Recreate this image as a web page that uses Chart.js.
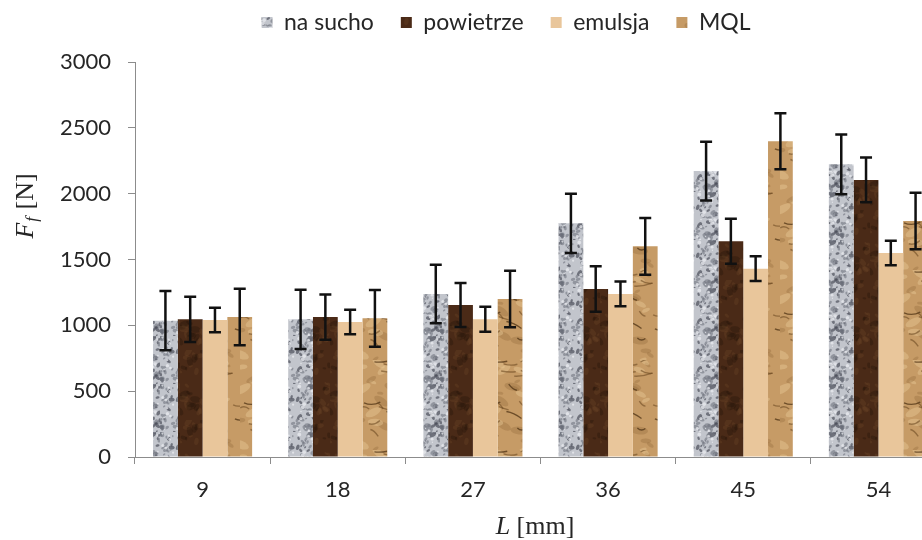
<!DOCTYPE html>
<html>
<head>
<meta charset="utf-8">
<script src="https://cdn.jsdelivr.net/npm/chart.js@4.4.0/dist/chart.umd.min.js"></script>
<style>
  html, body { margin: 0; padding: 0; background: #fff; overflow: hidden; }
  #wrap { width: 922px; height: 540px; overflow: hidden; }
</style>
</head>
<body>
<div id="wrap"><canvas id="chart" width="946" height="540"></canvas></div>
<script>
// dlugosc L [mm]
var lengths = ["9", "18", "27", "36", "45", "54"];

// sila Ff [N] - wartosci srednie
var naSucho   = [1035, 1046, 1238, 1775, 2172, 2223];
var powietrze = [1046, 1063, 1154, 1276, 1638, 2104];
var emulsja   = [1040, 1025, 1046, 1238, 1430, 1549];
var mql       = [1063, 1053, 1200, 1600, 2398, 1792];

// odchylenia (slupki bledow)
var errSucho     = [225, 225, 223, 225, 223, 227];
var errPowietrze = [172, 172, 167, 172, 171, 170];
var errEmulsja   = [93, 93, 95, 94, 94, 93];
var errMql       = [215, 215, 215, 216, 213, 215];

var yTicks = [0, 500, 1000, 1500, 2000, 2500, 3000];

var canvas = document.getElementById("chart");
var ctx = canvas.getContext("2d");

// deterministic hash for the textures
function h(n) {
  var s = Math.sin(n * 127.1 + 311.7) * 43758.5453;
  return s - Math.floor(s);
}

function tile(w, hgt, draw) {
  var c = document.createElement("canvas");
  c.width = w; c.height = hgt;
  draw(c.getContext("2d"), w, hgt);
  return ctx.createPattern(c, "repeat");
}

// granite-like grey
var granite = tile(40, 48, function(g, w, hh) {
  g.fillStyle = "#c2c5cc"; g.fillRect(0, 0, w, hh);
  for (var i = 0; i < 90; i++) {
    var x = h(i) * w, y = h(i + 50) * hh, r = 0.8 + h(i + 100) * 1.9;
    g.fillStyle = i % 3 ? "rgba(105,110,120,0.55)" : "rgba(75,79,90,0.7)";
    g.beginPath(); g.ellipse(x, y, r * 1.3, r * 0.8, h(i + 7) * 3, 0, Math.PI * 2); g.fill();
  }
  for (var k = 0; k < 30; k++) {
    var x2 = h(k + 200) * w, y2 = h(k + 250) * hh, r2 = 0.6 + h(k + 300) * 1.4;
    g.fillStyle = "rgba(236,238,242,0.7)";
    g.beginPath(); g.arc(x2, y2, r2, 0, Math.PI * 2); g.fill();
  }
});

// dark brown
var brown = tile(30, 70, function(g, w, hh) {
  g.fillStyle = "#4a2a17"; g.fillRect(0, 0, w, hh);
  for (var i = 0; i < 40; i++) {
    var x = h(i + 400) * w, y = h(i + 450) * hh, r = 1.5 + h(i + 500) * 4;
    g.fillStyle = i % 2 ? "rgba(115,75,42,0.28)" : "rgba(30,15,6,0.3)";
    g.beginPath(); g.ellipse(x, y, r, r * 0.6, h(i + 9) * 3, 0, Math.PI * 2); g.fill();
  }
});

// crumpled paper
var paper = tile(60, 90, function(g, w, hh) {
  g.fillStyle = "#c69b66"; g.fillRect(0, 0, w, hh);
  for (var i = 0; i < 26; i++) {
    var x = h(i + 600) * w, y = h(i + 650) * hh, r = 3 + h(i + 700) * 6;
    g.fillStyle = i % 2 ? "rgba(234,204,156,0.4)" : "rgba(140,100,52,0.3)";
    g.beginPath(); g.ellipse(x, y, r, r * 0.45, -0.7 + h(i + 3) * 1.4, 0, Math.PI * 2); g.fill();
  }
  g.lineWidth = 1.4;
  for (var k = 0; k < 18; k++) {
    var sx = h(k + 800) * w, sy = h(k + 850) * hh;
    var dx = 6 + h(k + 950) * 12, dy = -4 + h(k + 900) * 14;
    g.strokeStyle = k % 3 ? "rgba(110,75,35,0.6)" : "rgba(80,52,22,0.75)";
    g.beginPath(); g.moveTo(sx, sy);
    g.quadraticCurveTo(sx + dx * 0.5, sy + dy * 0.5 + (h(k) - 0.5) * 8, sx + dx, sy + dy);
    g.stroke();
  }
});

var series = [
  { label: "na sucho", data: naSucho, errs: errSucho, fill: granite },
  { label: "powietrze", data: powietrze, errs: errPowietrze, fill: brown },
  { label: "emulsja", data: emulsja, errs: errEmulsja, fill: "#e9c69b" },
  { label: "MQL", data: mql, errs: errMql, fill: paper }
];

var axisColor = "#8c8c8c";
var textColor = "#262626";
var tickFont = { family: "Lato", size: 22 };

// legend: height of the top band and its position
var legendBox = {
  id: "legendBox",
  beforeLayout: function(chart) {
    var lg = chart.legend;
    if (lg && !lg._patched) {
      var fit = lg.fit;
      lg.fit = function() { fit.call(this); this.height = 62; };
      lg._patched = true;
    }
  },
  afterLayout: function(chart) {
    var lg = chart.legend;
    lg.left += 33; lg.right += 33; lg.top -= 16;
  }
};

var errorBars = {
  id: "errorBars",
  afterDatasetsDraw: function(chart) {
    var c = chart.ctx, y = chart.scales.y;
    c.save();
    c.strokeStyle = "#111"; c.lineWidth = 2.5;
    series.forEach(function(s, i) {
      chart.getDatasetMeta(i).data.forEach(function(bar, j) {
        var top = y.getPixelForValue(s.data[j] + s.errs[j]);
        var bot = y.getPixelForValue(s.data[j] - s.errs[j]);
        c.beginPath();
        c.moveTo(bar.x, top); c.lineTo(bar.x, bot);
        c.moveTo(bar.x - 6, top); c.lineTo(bar.x + 6, top);
        c.moveTo(bar.x - 6, bot); c.lineTo(bar.x + 6, bot);
        c.stroke();
      });
    });
    c.restore();
  }
};

var axisTitles = {
  id: "axisTitles",
  afterDraw: function(chart) {
    var c = chart.ctx;
    var it = 'italic 26px "Liberation Serif"', rg = '26px "Liberation Serif"', sub = 'italic 17px "Liberation Serif"';
    c.save();
    c.fillStyle = textColor;
    c.textBaseline = "middle";
    c.textAlign = "left";
    // L [mm]
    c.font = it; var wL = c.measureText("L").width;
    c.font = rg; var wR = c.measureText(" [mm]").width;
    var x0 = 535 - (wL + wR) / 2;
    c.font = it; c.fillText("L", x0, 527);
    c.font = rg; c.fillText(" [mm]", x0 + wL, 527);
    // Ff [N]
    c.translate(26, 206);
    c.rotate(-Math.PI / 2);
    c.font = it; var wF = c.measureText("F").width;
    c.font = sub; var wf = c.measureText("f").width;
    c.font = rg; var wN = c.measureText(" [N]").width;
    var s0 = -(wF + wf + 2 + wN) / 2;
    c.font = it; c.fillText("F", s0, 0);
    c.font = sub; c.fillText("f", s0 + wF + 1, 7);
    c.font = rg; c.fillText(" [N]", s0 + wF + wf + 2, 0);
    c.restore();
  }
};

new Chart(canvas, {
  type: "bar",
  data: {
    labels: lengths,
    datasets: series.map(function(s) {
      return {
        label: s.label,
        data: s.data,
        backgroundColor: s.fill,
        borderWidth: 0,
        categoryPercentage: 0.733,
        barPercentage: 1.0
      };
    })
  },
  options: {
    responsive: false,
    animation: false,
    layout: { padding: 0 },
    plugins: {
      legend: {
        position: "top",
        labels: {
          boxWidth: 11,
          boxHeight: 11,
          padding: 27,
          color: textColor,
          font: { family: "Lato", size: 23 }
        }
      },
      tooltip: { enabled: false }
    },
    scales: {
      x: {
        grid: { drawOnChartArea: false, tickLength: 7, color: axisColor },
        border: { color: axisColor },
        ticks: { color: textColor, font: tickFont, padding: 13 },
        afterFit: function(s) { s.height = 83; }
      },
      y: {
        min: 0,
        max: 3000,
        afterBuildTicks: function(s) { s.ticks = yTicks.map(function(v) { return { value: v }; }); },
        grid: { drawOnChartArea: false, tickLength: 7, color: axisColor },
        border: { color: axisColor },
        ticks: {
          color: textColor, font: tickFont, padding: 17,
          callback: function(v) { return String(v); }
        },
        afterFit: function(s) { s.width = 135; }
      }
    }
  },
  plugins: [legendBox, errorBars, axisTitles]
});
</script>
</body>
</html>
